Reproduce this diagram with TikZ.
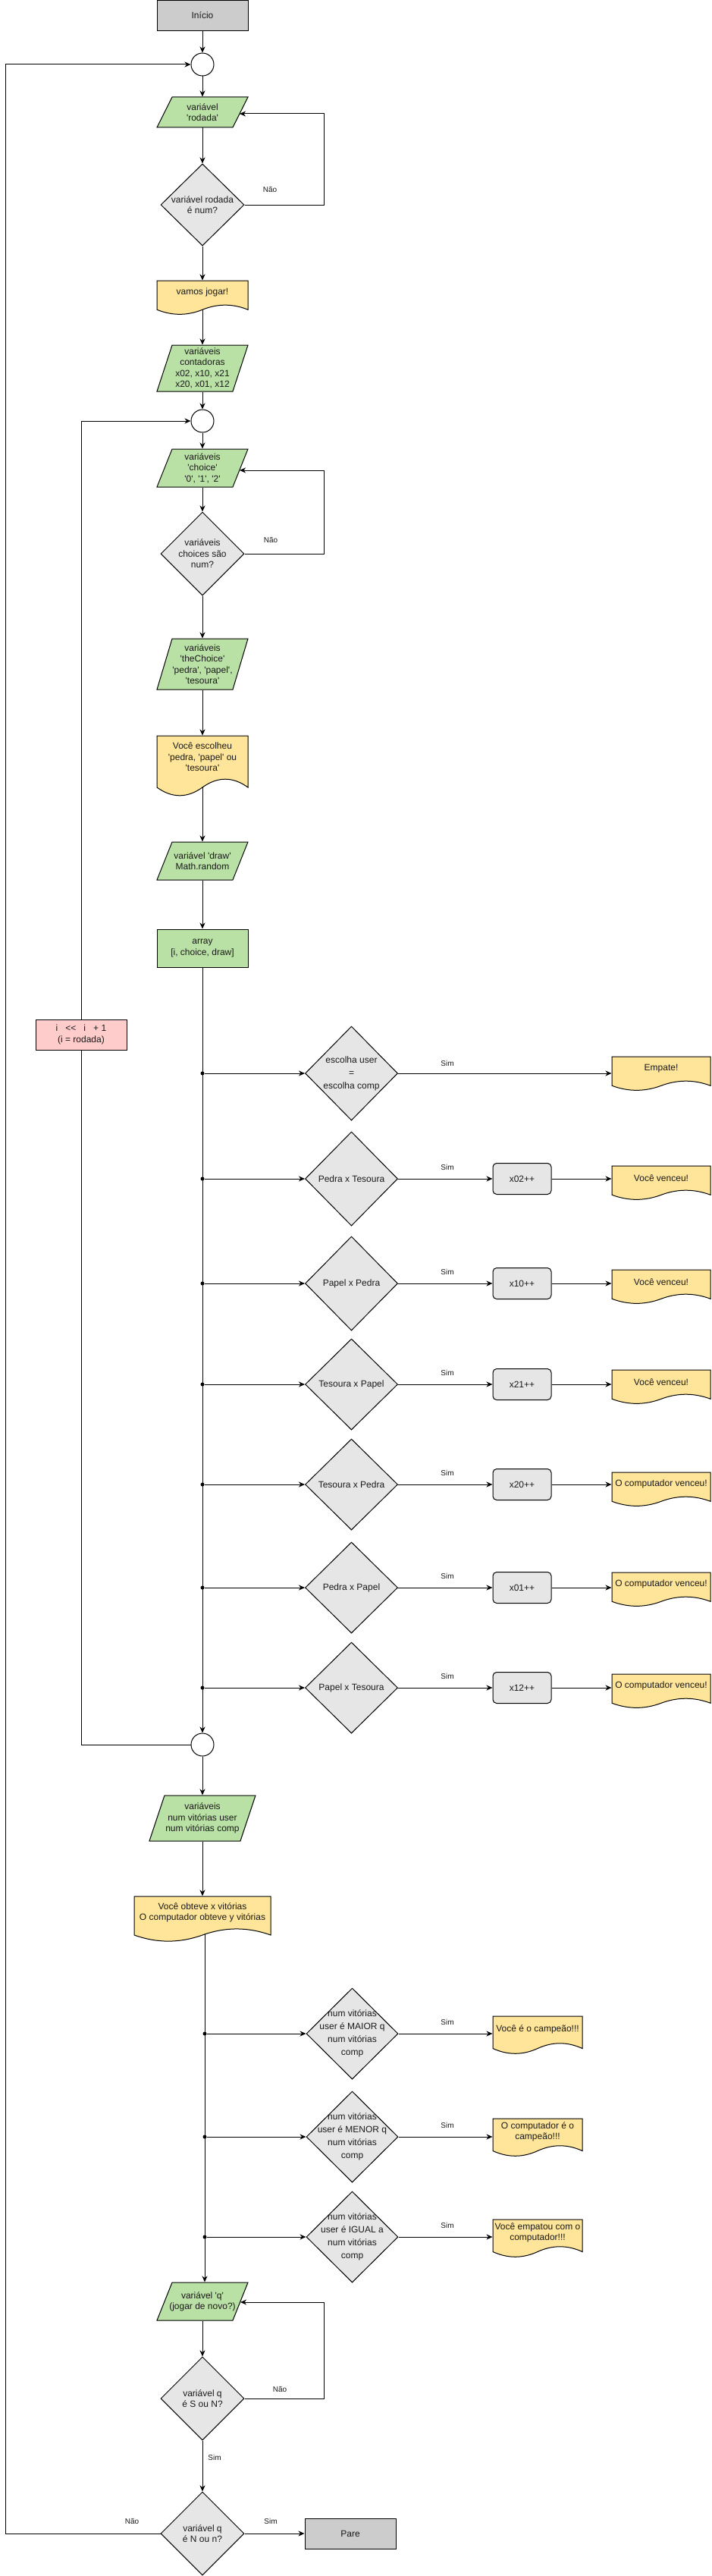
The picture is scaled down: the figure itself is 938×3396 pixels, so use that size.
\documentclass[tikz,border=0pt]{standalone}
\usepackage{fontspec}
\setmainfont{Liberation Sans}
\newfontfamily\dfont{Liberation Sans}
\usetikzlibrary{shapes.geometric,arrows.meta,calc}
\pgfdeclarelayer{bg}
\pgfsetlayers{bg,main}
\definecolor{cgray}{HTML}{CCCCCC}
\definecolor{cdec}{HTML}{E6E6E6}
\definecolor{cgreen}{HTML}{B9E0A5}
\definecolor{cyellow}{HTML}{FFE599}
\definecolor{cred}{HTML}{FFCCCC}
\definecolor{ctext}{HTML}{1A1A1A}
\tikzset{
  base/.style={font=\dfont\fontsize{12}{14.4}\selectfont, text=ctext, align=center, inner sep=0pt},
  tallskip/.style={font=\dfont\fontsize{12}{17}\selectfont},
  procbox/.style={base, rectangle, draw=black, line width=1pt, minimum width=120pt, minimum height=40pt},
  startend/.style={procbox, fill=cgray},
  greenbox/.style={procbox, fill=cgreen, minimum height=50pt},
  redbox/.style={procbox, fill=cred},
  incbox/.style={base, rectangle, rounded corners=5pt, draw=black, line width=1pt, fill=cdec, minimum width=77pt, minimum height=41pt},
  circ/.style={circle, draw=black, line width=1pt, fill=white, minimum size=30pt, inner sep=0pt},
  dot/.style={circle, fill=black, inner sep=0pt, minimum size=5pt},
  decshape/.style={diamond, draw=black, line width=1pt, fill=cdec, inner sep=0pt},
  docshape/.style={draw=black, line width=1pt, fill=cyellow},
  parashape/.style={draw=black, line width=1pt, fill=cgreen},
  elab/.style={font=\dfont\fontsize{10}{12}\selectfont, text=ctext, inner sep=0pt},
  conn/.style={line width=1pt, draw=black},
}
% name, cx, top, w, h, text
\newcommand\docbox[6]{%
  \begin{scope}[shift={(#2-#4/2,#3)},x=#4pt,y=-#5pt]
    \draw[docshape] (0,0) -- (1,0) -- (1,0.85) .. controls (0.8333,0.67) and (0.6667,0.67) .. (0.5,0.85) .. controls (0.3333,1.03) and (0.1667,1.03) .. (0,0.85) -- cycle;
  \end{scope}
  \node[base, minimum width=#4pt, minimum height=0.7*#5pt] (#1) at (#2,#3+0.35*#5) {#6};
}
% name, cx, cy, w, h, text
\newcommand\parabox[6]{%
  \draw[parashape] (#2-#4/2+20,#3-#5/2) -- (#2+#4/2,#3-#5/2) -- (#2+#4/2-20,#3+#5/2) -- (#2-#4/2,#3+#5/2) -- cycle;
  \node[base, minimum width=#4pt, minimum height=#5pt] (#1) at (#2,#3) {#6};
}
% name, cx, cy, w, h, text, extra style
\newcommand\decision[7]{%
  \node[decshape, minimum width=#4pt, minimum height=#5pt] (#1) at (#2,#3) {};
  \node[base,#7] (#1t) at (#1.center) {#6};
}
\begin{document}
\begin{tikzpicture}[x=1pt,y=-1pt,>={Stealth[length=8pt,width=7pt,inset=2.5pt]},line width=1pt]
\useasboundingbox (0,0) rectangle (938,3396);

% ---------- top section ----------
\node[startend] (inicio) at (267,20.5) {Início};
\node[circ] (c1) at (267,85) {};
\parabox{rodada}{267}{148}{120}{40}{variável\\'rodada'}
\coordinate (rodadain) at (316,150);
\decision{d1}{267}{270}{110}{108}{variável rodada\\é num?}{}
\docbox{vamos}{267}{370}{120}{45}{vamos jogar!}
\parabox{cont}{267}{485.5}{120}{61}{variáveis\\contadoras\\x02, x10, x21\\x20, x01, x12}
\node[circ] (c2) at (267,555) {};
\parabox{choice}{267}{617}{120}{50}{variáveis\\'choice'\\'0', '1', '2'}
\coordinate (choicein) at (316,620);
\decision{d2}{267}{730}{110}{110}{variáveis\\choices são\\num?}{}
\parabox{thech}{267}{875.5}{120}{67}{variáveis\\'theChoice'\\'pedra', 'papel',\\'tesoura'}
\docbox{escol}{267}{970}{120}{80}{Você escolheu\\'pedra, 'papel' ou\\'tesoura'}
\parabox{drw}{267}{1135}{120}{50}{variável 'draw'\\Math.random}
\node[greenbox] (arr) at (267,1250) {array\\{[}i, choice, draw{]}};
\node[redbox] (inc) at (107,1364) {i\hspace{10pt}<\kern0pt<\hspace{10pt}i\hspace{10pt}+\hspace{3.5pt}1\\(i = rodada)};

\coordinate (railR) at (427,0);
\coordinate (railL) at (7.5,0);

% ---------- comparison rows ----------
\decision{r1}{463.5}{1415}{122}{124}{escolha user\\=\\escolha comp}{tallskip}
\decision{r2}{463.5}{1554}{122}{124}{Pedra x Tesoura}{}
\decision{r3}{463.5}{1692}{122}{124}{Papel x Pedra}{}
\decision{r4}{463.5}{1825}{122}{120}{Tesoura x Papel}{}
\decision{r5}{463.5}{1957}{122}{120}{Tesoura x Pedra}{}
\decision{r6}{463.5}{2093}{122}{120}{Pedra x Papel}{}
\decision{r7}{463.5}{2225}{122}{120}{Papel x Tesoura}{}

\node[incbox] (x2) at (688.5,1554) {x02++};
\node[incbox] (x3) at (688.5,1692) {x10++};
\node[incbox] (x4) at (688.5,1825) {x21++};
\node[incbox] (x5) at (688.5,1957) {x20++};
\node[incbox] (x6) at (688.5,2093) {x01++};
\node[incbox] (x7) at (688.5,2225) {x12++};

\docbox{e1}{872}{1393}{130}{45}{Empate!}
\docbox{e2}{872}{1537}{130}{45}{Você venceu!}
\docbox{e3}{872}{1674}{130}{45}{Você venceu!}
\docbox{e4}{872}{1806}{130}{45}{Você venceu!}
\docbox{e5}{872}{1941}{130}{45}{O computador venceu!}
\docbox{e6}{872}{2073}{130}{45}{O computador venceu!}
\docbox{e7}{872}{2207}{130}{45}{O computador venceu!}

\node[dot] (j1) at (267,1415) {};
\node[dot] (j2) at (267,1554) {};
\node[dot] (j3) at (267,1692) {};
\node[dot] (j4) at (267,1825) {};
\node[dot] (j5) at (267,1957) {};
\node[dot] (j6) at (267,2093) {};
\node[dot] (j7) at (267,2225) {};

\node[circ] (c3) at (267,2300) {};

% ---------- results section ----------
\parabox{num}{267}{2397}{140}{60}{variáveis\\num vitórias user\\num vitórias comp}
\docbox{obt}{267}{2500}{180}{60}{Você obteve x vitórias\\O computador obteve y vitórias}
\coordinate (t2) at ([xshift=3pt]obt.south);

\decision{m1}{464.5}{2681}{121}{120}{num vitórias\\user é MAIOR q\\num vitórias\\comp}{tallskip}
\decision{m2}{464.5}{2817}{121}{120}{num vitórias\\user é MENOR q\\num vitórias\\comp}{tallskip}
\decision{m3}{464.5}{2949}{121}{120}{num vitórias\\user é IGUAL a\\num vitórias\\comp}{tallskip}
\docbox{f1}{709}{2658}{118}{50}{Você é o campeão!!!}
\docbox{f2}{709}{2793}{118}{50}{O computador é o\\campeão!!!}
\docbox{f3}{709}{2926}{118}{50}{Você empatou com o\\computador!!!}
\node[dot] (k1) at (270,2681) {};
\node[dot] (k2) at (270,2817) {};
\node[dot] (k3) at (270,2949) {};

\parabox{qv}{267}{3034}{120}{50}{variável 'q'\\(jogar de novo?)}
\coordinate (qin) at (317,3035);
\decision{dsn}{267}{3162}{110}{110}{variável q\\é S ou N?}{}
\decision{dnn}{267}{3340}{110}{110}{variável q\\é N ou n?}{}
\node[startend] (pare) at (462,3340) {Pare};

% ---------- edge labels ----------
\node[elab] (n1) at (356,250) {Não};
\node[elab] (n2) at (357,712) {Não};
\node[elab] (s1) at (590,1402) {Sim};
\node[elab] (s2) at (590,1539) {Sim};
\node[elab] (s3) at (590,1677) {Sim};
\node[elab] (s4) at (590,1810) {Sim};
\node[elab] (s5) at (590,1942) {Sim};
\node[elab] (s6) at (590,2078) {Sim};
\node[elab] (s7) at (590,2210) {Sim};
\node[elab] (s8) at (590,2666) {Sim};
\node[elab] (s9) at (590,2802) {Sim};
\node[elab] (s10) at (590,2934) {Sim};
\node[elab] (n3) at (369,3150) {Não};
\node[elab] (s11) at (283,3240) {Sim};
\node[elab] (s12) at (357,3324) {Sim};
\node[elab] (n4) at (174,3324) {Não};

% ---------- connectors ----------
\begin{pgfonlayer}{bg}
\fill[white] (0,0) rectangle (938,3396);
\draw[conn,->] (inicio.south) -- (c1.north);
\draw[conn,->] (c1.south) -- (rodada.north);
\draw[conn,->] (rodada.south) -- (d1.north);
\draw[conn,->] (d1.east) -- (d1.east -| railR) |- (rodadain);
\draw[conn,->] (d1.south) -- (vamos.north);
\draw[conn,->] (vamos.south) -- (cont.north);
\draw[conn,->] (cont.south) -- (c2.north);
\draw[conn,->] (c2.south) -- (choice.north);
\draw[conn,->] (choice.south) -- (d2.north);
\draw[conn,->] (d2.east) -- (d2.east -| railR) |- (choicein);
\draw[conn,->] (d2.south) -- (thech.north);
\draw[conn,->] (thech.south) -- (escol.north);
\draw[conn,->] (escol.south) -- (drw.north);
\draw[conn,->] (drw.south) -- (arr.north);
\draw[conn,->] (arr.south) -- (c3.north);
\foreach \i in {1,...,7} {
  \draw[conn,->] (j\i) -- (r\i.west);
}
\draw[conn,->] (r1.east) -- (r1.east -| e1.west);
\foreach \i in {2,...,7} {
  \draw[conn,->] (r\i.east) -- (x\i.west);
  \draw[conn,->] (x\i.east) -- (x\i.east -| e\i.west);
}
\draw[conn] (c3.west) -| (inc.south);
\draw[conn,->] (inc.north) |- (c2.west);
\draw[conn,->] (c3.south) -- (num.north);
\draw[conn,->] (num.south) -- (obt.north);
\draw[conn,->] (t2) -- (t2 |- qv.north);
\foreach \i in {1,2,3} {
  \draw[conn,->] (k\i) -- (m\i.west);
  \draw[conn,->] (m\i.east) -- (m\i.east -| f\i.west);
}
\draw[conn,->] (qv.south) -- (dsn.north);
\draw[conn,->] (dsn.east) -- (dsn.east -| railR) |- (qin);
\draw[conn,->] (dsn.south) -- (dnn.north);
\draw[conn,->] (dnn.east) -- (pare.west);
\draw[conn,->] (dnn.west) -- (dnn.west -| railL) |- (c1.west);
\end{pgfonlayer}
\end{tikzpicture}
\end{document}
